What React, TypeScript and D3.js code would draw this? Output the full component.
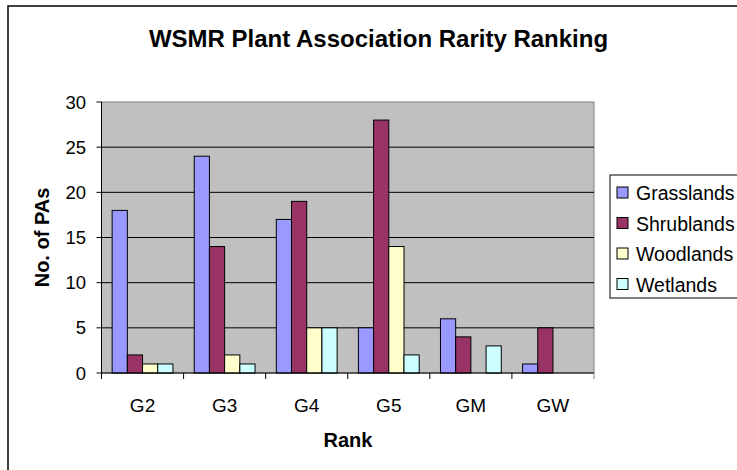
import React from "react";
import * as d3 from "d3";

const categories = ["G2", "G3", "G4", "G5", "GM", "GW"];
const seriesNames = ["Grasslands", "Shrublands", "Woodlands", "Wetlands"];
const grasslands = [18, 24, 17, 5, 6, 1];
const shrublands = [2, 14, 19, 28, 4, 5];
const woodlands = [1, 2, 5, 14, 0, 0];
const wetlands = [1, 1, 5, 2, 3, 0];
const yTicks = [0, 5, 10, 15, 20, 25, 30];
const colors = ["#9999FF", "#993366", "#FFFFCC", "#CCFFFF"];

const seriesValues = [grasslands, shrublands, woodlands, wetlands];

export default function App() {
  const W = 737, H = 470;
  const left = 101.5, right = 594, top = 102, bottom = 373;
  const x = d3.scaleBand<string>().domain(categories).range([left, right]).paddingInner(0).paddingOuter(0);
  const inner = d3.scaleBand<number>().domain([0, 1, 2, 3]).range([0, x.bandwidth()]).paddingInner(0).paddingOuter(0.7);
  const y = d3.scaleLinear().domain([0, 30]).range([bottom, top]);
  const font = "Liberation Sans, Arial, sans-serif";

  return (
    <svg width={W} height={H} style={{ position: "absolute", left: 0, top: 0, background: "#fff" }} fontFamily={font}>
      <rect x={0} y={0} width={W} height={H} fill="#fff" />
      {/* outer frame */}
      <rect x={8} y={6} width={W + 20} height={H + 20} fill="none" stroke="#000" strokeWidth={1.5} />
      <text x={378.5} y={47} textAnchor="middle" fontSize={24} fontWeight="bold">WSMR Plant Association Rarity Ranking</text>
      {/* plot area */}
      <rect x={left} y={top} width={right - left} height={bottom - top} fill="#C0C0C0" stroke="#808080" strokeWidth={1} />
      {yTicks.filter(t => t > 0 && t < 30).map(t => (
        <line key={t} x1={left} x2={right} y1={y(t)} y2={y(t)} stroke="#000" strokeWidth={1} />
      ))}
      {/* bars */}
      {categories.map((c, ci) => (
        <g key={c}>
          {seriesValues.map((vals, si) => vals[ci] > 0 ? (
            <rect key={si} x={(x(c) as number) + (inner(si) as number)} y={y(vals[ci])}
              width={inner.bandwidth()} height={bottom - y(vals[ci])}
              fill={colors[si]} stroke="#000" strokeWidth={1} />
          ) : null)}
        </g>
      ))}
      {/* y axis */}
      <line x1={left} x2={left} y1={top} y2={bottom} stroke="#000" strokeWidth={1} />
      {yTicks.map(t => (
        <g key={t}>
          <line x1={left - 5} x2={left} y1={y(t)} y2={y(t)} stroke="#000" />
          <text x={86} y={y(t)} dy="0.36em" textAnchor="end" fontSize={18.5}>{t}</text>
        </g>
      ))}
      {/* x axis */}
      <line x1={left} x2={right} y1={bottom} y2={bottom} stroke="#000" strokeWidth={1} />
      {categories.map((c) => (
        <line key={"t" + c} x1={(x(c) as number)} x2={(x(c) as number)} y1={bottom} y2={bottom + 6} stroke="#000" />
      ))}
      <line x1={right} x2={right} y1={bottom} y2={bottom + 6} stroke="#808080" />
      {categories.map(c => (
        <text key={"l" + c} x={(x(c) as number) + x.bandwidth() / 2} y={412} textAnchor="middle" fontSize={19}>{c}</text>
      ))}
      <text x={348} y={447} textAnchor="middle" fontSize={20} fontWeight="bold">Rank</text>
      <text transform={`translate(49, ${(top + bottom) / 2}) rotate(-90)`} textAnchor="middle" fontSize={20} fontWeight="bold">No. of PAs</text>
      {/* legend */}
      <rect x={610} y={175} width={140} height={123} fill="#fff" stroke="#000" strokeWidth={1} />
      {seriesNames.map((n, i) => (
        <g key={n} transform={`translate(617, ${193 + i * 30.5})`}>
          <rect x={0} y={-6} width={11} height={11} fill={colors[i]} stroke="#000" strokeWidth={1} />
          <text x={19} y={0} dy="0.36em" fontSize={19.5}>{n}</text>
        </g>
      ))}
    </svg>
  );
}
